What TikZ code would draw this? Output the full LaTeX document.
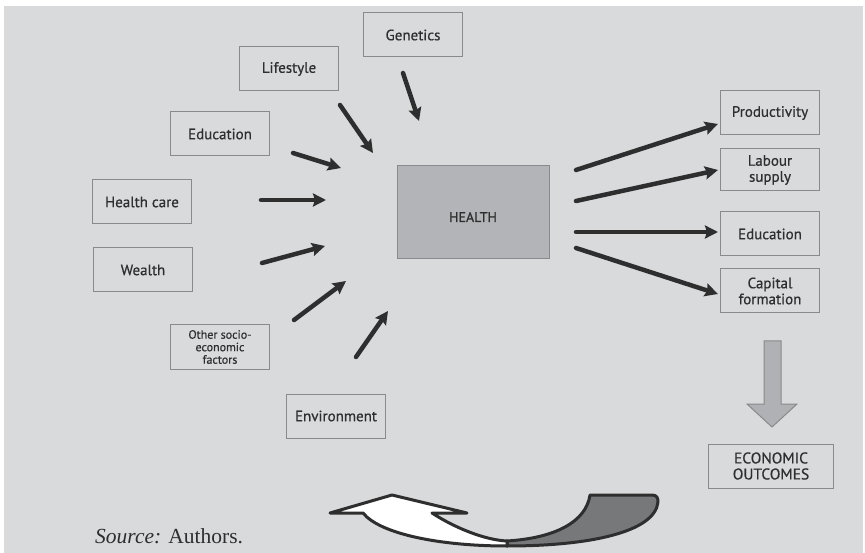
\documentclass[tikz,border=0pt]{standalone}
\usepackage{fontspec}
\setmainfont{PT Sans}[FakeBold=0.6]
\newfontfamily\srcfont{Liberation Serif}
\usetikzlibrary{arrows.meta}
\definecolor{bg}{HTML}{D9DADC}
\definecolor{boxline}{HTML}{8A8A8C}
\definecolor{healthfill}{HTML}{B3B4B7}
\definecolor{ink}{HTML}{2E2E2E}
\definecolor{darkband}{HTML}{77787A}
\definecolor{downfill}{HTML}{B0B1B4}
\begin{document}
\begin{tikzpicture}[x=1pt,y=-1pt,
  box/.style={draw=boxline, line width=1pt, fill=bg, inner sep=0pt, align=center,
    minimum width=99pt, minimum height=44pt, text=ink,
    font=\fontsize{15}{16}\selectfont},
  smallbox/.style={box, font=\fontsize{12}{12.5}\selectfont},
  thickarrow/.style={draw=ink, line width=4.5pt, line cap=round,
    -{Stealth[length=13pt,width=13pt,inset=2pt]}},
  ribbon/.style={draw=ink, line width=3pt, line join=round}
]
\useasboundingbox (0,0) rectangle (865,553);
\fill[white] (0,0) rectangle (865,553);
\fill[bg] (4,6) rectangle (863,553);

% boxes
\node[box] (gen) at (413,35) {Genetics};
\node[box] (life) at (289,69) {Lifestyle};
\node[box] (edl) at (220,134) {Education};
\node[box] (hc) at (142,202) {Health care};
\node[box] (wea) at (143,270) {Wealth};
\node[smallbox] (oth) at (220,347) {Other socio-\\economic\\factors};
\node[box] (env) at (336,416) {Environment};
\node[box, fill=healthfill, minimum width=152pt, minimum height=93pt,
  font=\fontsize{14}{15}\selectfont, text height=20pt, text depth=0pt] (health) at (473,212) {HEALTH};
\node[box] (prod) at (770,113) {Productivity};
\node[box, minimum height=42pt] (lab) at (770,170) {Labour\\supply};
\node[box] (edr) at (770,234) {Education};
\node[box] (cap) at (770,291) {Capital\\formation};
\node[box, minimum width=125pt, font=\fontsize{15.5}{16}\selectfont] (eco) at (771,466) {ECONOMIC\\OUTCOMES};

% arrow end points
\coordinate (genA) at (403,73);  \coordinate (genB) at (419,121);
\coordinate (lifeA) at (340,105); \coordinate (lifeB) at (373,153);
\coordinate (edlA) at (293,153); \coordinate (edlB) at (341,168);
\coordinate (hcA) at (261,200);  \coordinate (hcB) at (326,200);
\coordinate (weaA) at (262,263); \coordinate (weaB) at (325,246);
\coordinate (othA) at (294,320); \coordinate (othB) at (346,281);
\coordinate (envA) at (356,357); \coordinate (envB) at (388,311);
\coordinate (prodA) at (576,170); \coordinate (prodB) at (718,124);
\coordinate (labA) at (576,201); \coordinate (labB) at (718,170);
\coordinate (edrA) at (576,232); \coordinate (edrB) at (718,232);
\coordinate (capA) at (576,248); \coordinate (capB) at (718,294);

\foreach \n in {gen,life,edl,hc,wea,oth,env,prod,lab,edr,cap}
  \draw[thickarrow] (\n A) -- (\n B);

% grey down arrow
\draw[boxline, line width=1pt, fill=downfill]
  (764,341) -- (781,341) -- (781,404) -- (797,404) -- (772,427)
  -- (747,404) -- (764,404) -- cycle;

% curved ribbon arrow
\draw[ribbon, fill=darkband]
  (507,541) .. controls (555,538) and (586,522) .. (590,495)
  -- (652,495) .. controls (657,495) and (658,498) .. (658,502)
  .. controls (655,532) and (590,546) .. (507,546) -- cycle;
\draw[ribbon, fill=white]
  (330,513) -- (392,495) -- (467,513) -- (432,513)
  .. controls (455,528) and (485,540) .. (507,541)
  -- (507,546) .. controls (440,546) and (380,534) .. (363,513) -- cycle;

% source
\node[anchor=base west, inner sep=0pt, text=ink] (src) at (95,543)
  {\srcfont\fontsize{21.5}{22}\selectfont\textit{Source:} Authors.};
\end{tikzpicture}
\end{document}
